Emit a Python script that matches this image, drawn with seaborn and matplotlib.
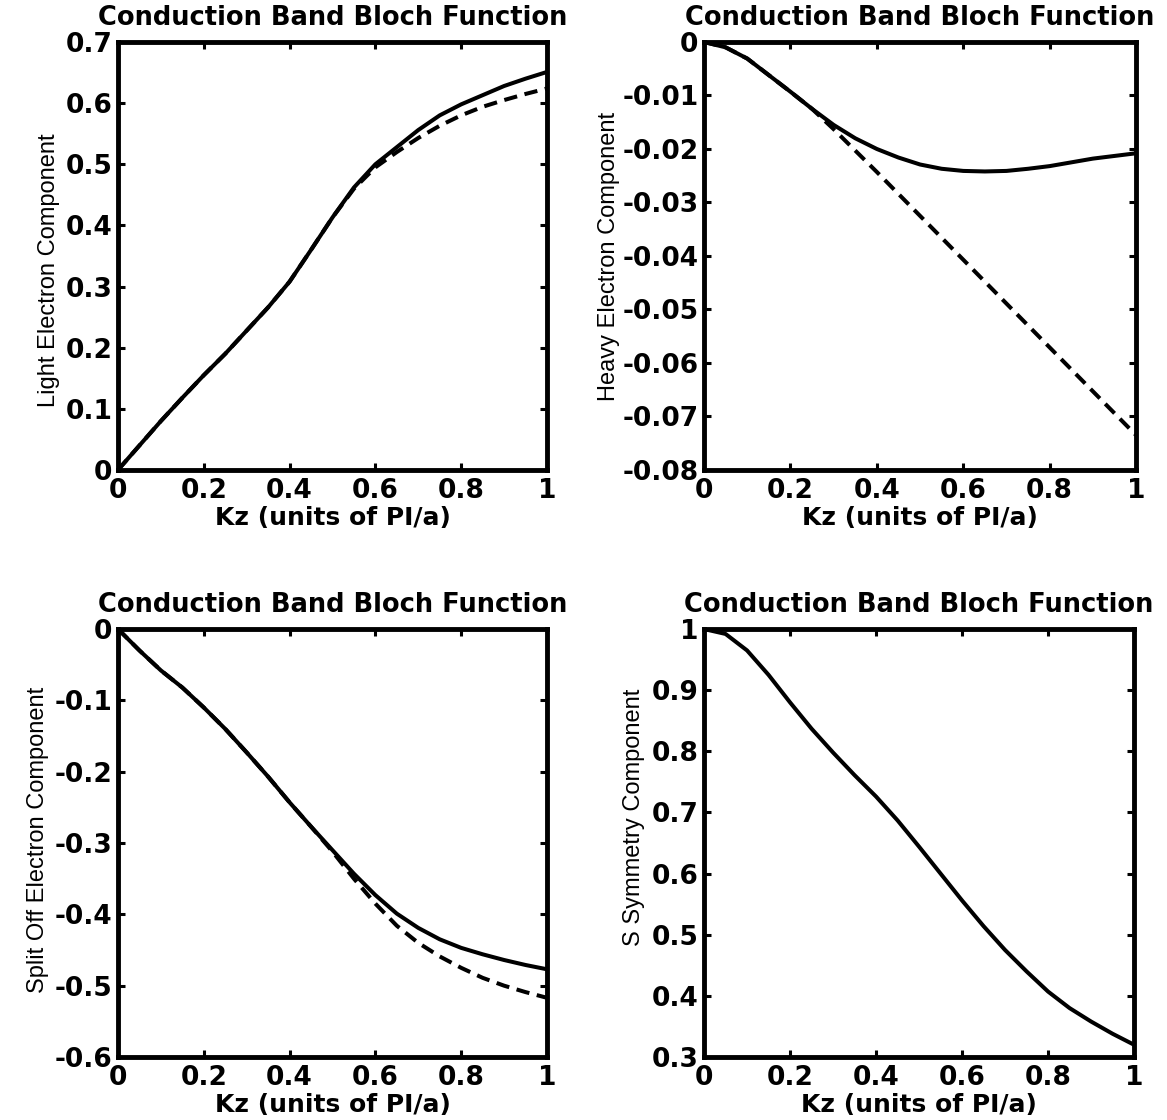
import numpy as np
import pandas as pd
import matplotlib
matplotlib.use("Agg")
import matplotlib.pyplot as plt
import seaborn as sns

# Wave-vector grid along z (units of pi/a)
kz = [0.00, 0.05, 0.10, 0.15, 0.20, 0.25, 0.30, 0.35, 0.40, 0.45, 0.50,
      0.55, 0.60, 0.65, 0.70, 0.75, 0.80, 0.85, 0.90, 0.95, 1.00]

# Light electron component
light_full = [0.000, 0.040, 0.080, 0.118, 0.155, 0.190, 0.228, 0.266, 0.308, 0.360, 0.413,
              0.462, 0.500, 0.528, 0.556, 0.580, 0.598, 0.613, 0.628, 0.640, 0.651]
light_approx = [0.000, 0.040, 0.080, 0.118, 0.155, 0.190, 0.228, 0.266, 0.308, 0.360, 0.413,
                0.460, 0.495, 0.520, 0.543, 0.563, 0.580, 0.594, 0.605, 0.615, 0.624]

# Heavy electron component
heavy_full = [0.0000, -0.0010, -0.0031, -0.0062, -0.0093, -0.0125, -0.0155, -0.0180, -0.0200,
              -0.0216, -0.0229, -0.0237, -0.0241, -0.0242, -0.0241, -0.0237, -0.0232, -0.0225,
              -0.0218, -0.0213, -0.0208]
heavy_approx = [0.0000, -0.0010, -0.0031, -0.0062, -0.0093, -0.0125, -0.0163, -0.0203, -0.0243,
                -0.0284, -0.0325, -0.0366, -0.0407, -0.0448, -0.0489, -0.0530, -0.0571, -0.0612,
                -0.0653, -0.0694, -0.0735]

# Split-off electron component
split_full = [0.000, -0.030, -0.058, -0.082, -0.110, -0.140, -0.173, -0.207, -0.243, -0.277, -0.310,
              -0.343, -0.373, -0.399, -0.419, -0.435, -0.447, -0.456, -0.464, -0.471, -0.477]
split_approx = [0.000, -0.030, -0.058, -0.082, -0.110, -0.140, -0.173, -0.207, -0.243, -0.277, -0.312,
                -0.350, -0.385, -0.416, -0.440, -0.459, -0.475, -0.489, -0.500, -0.509, -0.517]

# S symmetry component
s_full = [1.000, 0.992, 0.965, 0.925, 0.880, 0.837, 0.798, 0.761, 0.726, 0.687, 0.644,
          0.600, 0.556, 0.514, 0.475, 0.440, 0.407, 0.380, 0.358, 0.338, 0.320]

title_text = "Conduction Band Bloch Function"
xlabel_text = "Kz (units of PI/a)"
x_ticks = [0, 0.2, 0.4, 0.6, 0.8, 1]
x_ticklabels = ["0", "0.2", "0.4", "0.6", "0.8", "1"]

panels = [
    dict(rect=[0.1011, 0.5804, 0.3676, 0.3821], ylabel="Light Electron Component",
         series=[light_full, light_approx], ylim=(0, 0.7),
         yticks=[0, 0.1, 0.2, 0.3, 0.4, 0.5, 0.6, 0.7],
         yticklabels=["0", "0.1", "0.2", "0.3", "0.4", "0.5", "0.6", "0.7"],
         ylab_pos=(-0.135, 0.467)),
    dict(rect=[0.6033, 0.5804, 0.3702, 0.3821], ylabel="Heavy Electron Component",
         series=[heavy_full, heavy_approx], ylim=(-0.08, 0),
         yticks=[-0.08, -0.07, -0.06, -0.05, -0.04, -0.03, -0.02, -0.01, 0],
         yticklabels=["-0.08", "-0.07", "-0.06", "-0.05", "-0.04", "-0.03", "-0.02", "-0.01", "0"],
         ylab_pos=(-0.194, 0.50)),
    dict(rect=[0.1011, 0.05625, 0.3676, 0.3821], ylabel="Split Off Electron Component",
         series=[split_full, split_approx], ylim=(-0.6, 0),
         yticks=[-0.6, -0.5, -0.4, -0.3, -0.2, -0.1, 0],
         yticklabels=["-0.6", "-0.5", "-0.4", "-0.3", "-0.2", "-0.1", "0"],
         ylab_pos=(-0.161, 0.507)),
    dict(rect=[0.6033, 0.05625, 0.3685, 0.3821], ylabel="S Symmetry Component",
         series=[s_full], ylim=(0.3, 1.0),
         yticks=[0.3, 0.4, 0.5, 0.6, 0.7, 0.8, 0.9, 1.0],
         yticklabels=["0.3", "0.4", "0.5", "0.6", "0.7", "0.8", "0.9", "1"],
         ylab_pos=(-0.137, 0.561)),
]

sns.set_style("ticks")
plt.rcParams["font.family"] = ["DejaVu Sans"]

fig = plt.figure(figsize=(11.67, 11.2), dpi=100)
styles = ["-", (0, (3.3, 1.9))]

for p in panels:
    ax = fig.add_axes(p["rect"])
    for vals, ls in zip(p["series"], styles):
        df = pd.DataFrame({"kz": kz, "value": vals})
        sns.lineplot(data=df, x="kz", y="value", ax=ax, color="black",
                     linewidth=2.9, linestyle=ls)
    ax.set_xlim(0, 1)
    ax.set_ylim(*p["ylim"])
    ax.set_xticks(x_ticks)
    ax.set_xticklabels(x_ticklabels)
    ax.set_yticks(p["yticks"])
    ax.set_yticklabels(p["yticklabels"])
    ax.tick_params(direction="in", length=5, width=2.2, top=True, right=True,
                   labelsize=19, colors="black")
    ax.tick_params(axis="x", pad=6)
    ax.tick_params(axis="y", pad=4)
    for lab in ax.get_xticklabels() + ax.get_yticklabels():
        lab.set_fontweight("bold")
    for sp in ax.spines.values():
        sp.set_linewidth(3.5)
        sp.set_color("black")
    ax.set_title(title_text, fontsize=18.5, fontweight="bold", pad=12, color="black")
    ax.set_xlabel(xlabel_text, fontsize=18, fontweight="bold", labelpad=1, color="black")
    ax.set_ylabel(p["ylabel"], fontsize=17, color="black",
                  family=["Liberation Sans", "DejaVu Sans"])
    ax.yaxis.set_label_coords(*p["ylab_pos"])
    ax.grid(False)

fig.savefig("out.png", dpi=100, facecolor="white")
